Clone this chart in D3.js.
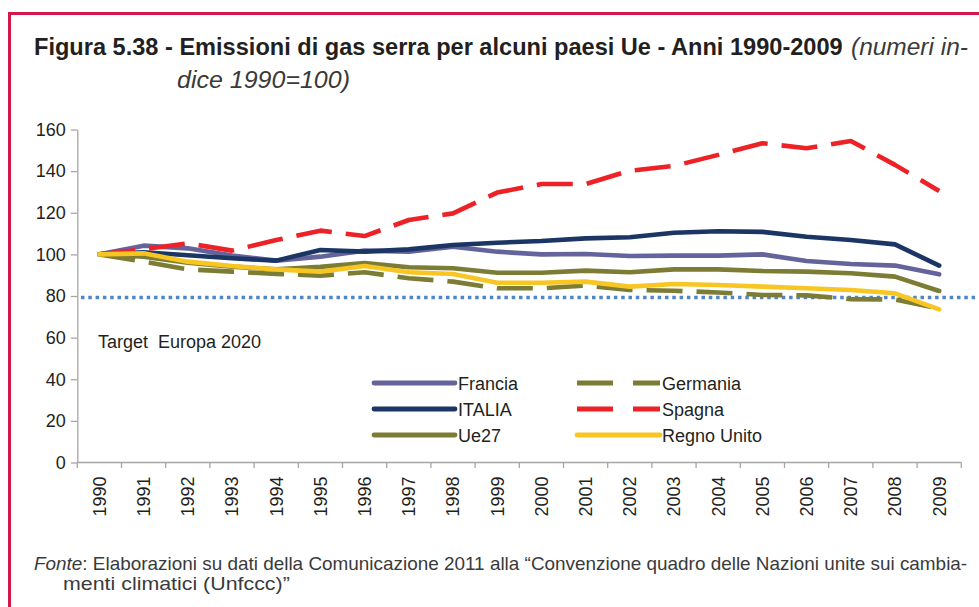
<!DOCTYPE html>
<html>
<head>
<meta charset="utf-8">
<script src="https://cdn.jsdelivr.net/npm/d3@7/dist/d3.min.js"></script>
<style>
  body { margin: 0; background: #fff; }
  svg { display: block; }
  text { font-family: "Liberation Sans", Arial, Helvetica, sans-serif; }
</style>
</head>
<body>
<svg id="chart" width="979" height="607"></svg>
<script>
// Greenhouse gas emissions, index numbers (1990 = 100)
const years = [1990, 1991, 1992, 1993, 1994, 1995, 1996, 1997, 1998, 1999,
               2000, 2001, 2002, 2003, 2004, 2005, 2006, 2007, 2008, 2009];

const francia    = [100, 104.2, 102.9, 99.4, 97.0, 98.9, 101.8, 101.3, 103.7, 101.3,
                    100.0, 100.2, 99.2, 99.4, 99.4, 100.0, 96.8, 95.4, 94.6, 90.4];
const germania   = [100, 96.5, 92.8, 91.7, 90.6, 89.8, 91.4, 88.5, 86.9, 83.7,
                    83.7, 85.0, 82.9, 82.5, 81.7, 80.5, 80.3, 78.5, 78.3, 73.9];
const italia     = [100, 101.0, 99.6, 98.1, 97.0, 102.1, 101.3, 102.4, 104.5, 105.6,
                    106.4, 107.7, 108.2, 110.4, 111.1, 110.8, 108.5, 106.9, 104.8, 94.6];
const spagna     = [100, 102.5, 105.3, 101.8, 106.9, 111.4, 108.8, 116.5, 119.7, 129.7,
                    133.8, 133.8, 140.2, 142.5, 147.8, 153.4, 151.0, 154.5, 143.0, 130.5];
const ue27       = [100, 98.9, 96.0, 94.1, 92.8, 94.0, 95.8, 93.8, 93.3, 91.2,
                    91.2, 92.2, 91.4, 92.8, 92.8, 92.0, 91.7, 90.9, 89.3, 82.4];
const regnoUnito = [100, 100.5, 96.5, 94.4, 92.8, 91.7, 94.4, 91.4, 90.6, 86.4,
                    86.4, 86.9, 84.5, 85.8, 85.3, 84.5, 83.7, 82.9, 81.3, 73.6];

const seriesNames  = ["Francia", "Germania", "ITALIA", "Spagna", "Ue27", "Regno Unito"];
const seriesValues = [francia, germania, italia, spagna, ue27, regnoUnito];
const seriesColors = ["#64639b", "#7d7c34", "#1b3564", "#ec2227", "#7d7c34", "#f7c623"];
const seriesDashed = [false, true, false, true, false, false];

const yTicks = [0, 20, 40, 60, 80, 100, 120, 140, 160];
const targetValue = 79.3;
const targetLabel = "Target  Europa 2020";

const titleMain = "Figura 5.38 - Emissioni di gas serra per alcuni paesi Ue - Anni 1990-2009";
const titleNote1 = "(numeri in-";
const titleNote2 = "dice 1990=100)";
const sourceLead = "Fonte";
const sourceLine1 = ": Elaborazioni su dati della Comunicazione 2011 alla \u201cConvenzione quadro delle Nazioni unite sui cambia-";
const sourceLine2 = "menti climatici (Unfccc)\u201d";

// ---------------------------------------------------------------------------
const svg = d3.select("#chart");
const frameColor = "#d3174c";

// Frame (top and left rules)
svg.append("line").attr("x1", 8.5).attr("x2", 979).attr("y1", 13.5).attr("y2", 13.5)
  .attr("stroke", frameColor).attr("stroke-width", 3);
svg.append("line").attr("x1", 9.5).attr("x2", 9.5).attr("y1", 12).attr("y2", 607)
  .attr("stroke", frameColor).attr("stroke-width", 3);

// Squeeze a text group horizontally so that it spans the given width
function fitWidth(g, x, y, width) {
  const w = g.node().getBBox().width;
  g.attr("transform", `translate(${x},${y}) scale(${width / w},1)`);
}

// Title
const t1 = svg.append("g");
t1.append("text").attr("font-size", 24).attr("font-weight", "bold").attr("fill", "#231f20").text(titleMain);
fitWidth(t1, 34, 55, 809);
const t2 = svg.append("g");
t2.append("text").attr("font-size", 24).attr("font-style", "italic").attr("fill", "#3a3a3a").text(titleNote1);
fitWidth(t2, 851, 55, 117);
const t3 = svg.append("g");
t3.append("text").attr("font-size", 24).attr("font-style", "italic").attr("fill", "#3a3a3a").text(titleNote2);
fitWidth(t3, 177, 88, 173);

// Plot area
const plot = { left: 77.3, right: 961.3, top: 129.5, bottom: 462.5 };
const x = d3.scaleBand().domain(years).range([plot.left, plot.right]).padding(0);
const y = d3.scaleLinear().domain([0, 160]).range([plot.bottom, plot.top]);
const cx = yr => x(yr) + x.bandwidth() / 2;
const axisColor = "#a6a6a6";

// Y axis
const yAxis = svg.append("g").attr("transform", `translate(${plot.left},0)`)
  .call(d3.axisLeft(y).tickValues(yTicks).tickSize(6.5).tickSizeOuter(0).tickPadding(5));
yAxis.select(".domain").attr("stroke", axisColor).attr("stroke-width", 1.3);
yAxis.selectAll(".tick line").attr("stroke", axisColor).attr("stroke-width", 1.3);
yAxis.selectAll(".tick text").attr("font-size", 18).attr("fill", "#231f20")
  .attr("font-family", "'Liberation Sans', Arial, sans-serif");

// X axis: baseline, boundary ticks and rotated year labels
const xg = svg.append("g");
xg.append("line").attr("x1", plot.left).attr("x2", plot.right)
  .attr("y1", y(0)).attr("y2", y(0)).attr("stroke", axisColor).attr("stroke-width", 1.3);
const bounds = years.map(yr => x(yr)).concat([x(years[years.length - 1]) + x.bandwidth()]);
xg.selectAll("line.tick").data(bounds).join("line").attr("class", "tick")
  .attr("x1", d => d).attr("x2", d => d).attr("y1", y(0)).attr("y2", y(0) + 5.5)
  .attr("stroke", axisColor).attr("stroke-width", 1.3);
xg.selectAll("text").data(years).join("text")
  .attr("transform", d => `translate(${cx(d)},${y(0) + 14}) rotate(-90)`)
  .attr("text-anchor", "end").attr("dy", "0.35em")
  .attr("font-size", 18).attr("fill", "#231f20").text(d => d);

// Target line
svg.append("line").attr("x1", 81).attr("x2", 976)
  .attr("y1", y(targetValue)).attr("y2", y(targetValue))
  .attr("stroke", "#4f86c6").attr("stroke-width", 3.5).attr("stroke-dasharray", "3.5 3.8");
svg.append("text").attr("x", 98).attr("y", 348).attr("font-size", 18)
  .attr("fill", "#231f20").attr("xml:space", "preserve").style("white-space", "pre").text(targetLabel);

// Series lines
const line = d3.line().x((d, i) => cx(years[i])).y(d => y(d));
seriesNames.forEach((name, k) => {
  svg.append("path").datum(seriesValues[k])
    .attr("d", line).attr("fill", "none")
    .attr("stroke", seriesColors[k]).attr("stroke-width", 4.6)
    .attr("stroke-linejoin", "round")
    .attr("stroke-linecap", seriesDashed[k] ? "butt" : "round")
    .attr("stroke-dasharray", seriesDashed[k] ? "36 14" : null);
});

// Legend: two columns, filled row by row
const legCols = [{ x1: 374, x2: 455, tx: 458 }, { x1: 577, x2: 660, tx: 662 }];
const legRows = [383, 409, 435];
seriesNames.forEach((name, k) => {
  const c = legCols[k % 2], ry = legRows[Math.floor(k / 2)];
  const item = svg.append("g");
  item.append("line").attr("x1", c.x1).attr("x2", c.x2).attr("y1", ry).attr("y2", ry)
    .attr("stroke", seriesColors[k]).attr("stroke-width", 4.8)
    .attr("stroke-linecap", seriesDashed[k] ? "butt" : "round")
    .attr("stroke-dasharray", seriesDashed[k] ? "36 20" : null);
  item.append("text").attr("x", c.tx).attr("y", ry).attr("dy", "0.38em")
    .attr("font-size", 18).attr("fill", "#231f20").text(name);
});

// Source note
const s1 = svg.append("g");
const s1t = s1.append("text").attr("font-size", 18).attr("fill", "#3a3a3a");
s1t.append("tspan").attr("font-style", "italic").text(sourceLead);
s1t.append("tspan").text(sourceLine1);
fitWidth(s1, 34, 570, 934);
const s2 = svg.append("g");
s2.append("text").attr("font-size", 18).attr("fill", "#3a3a3a").text(sourceLine2);
fitWidth(s2, 63, 590, 227);
</script>
</body>
</html>
